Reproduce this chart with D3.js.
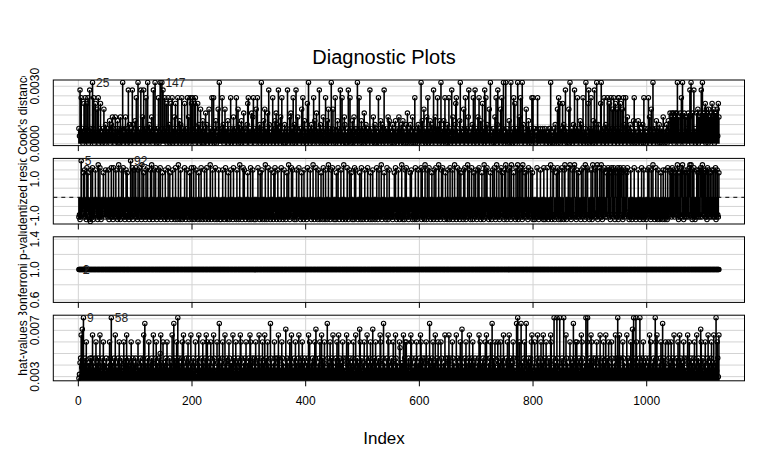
<!DOCTYPE html>
<html>
<head>
<meta charset="utf-8">
<script src="https://cdnjs.cloudflare.com/ajax/libs/d3/7.8.5/d3.min.js"></script>
<style>
  body { margin: 0; background: #fff; }
  text { font-family: "Liberation Sans", Arial, sans-serif; }
</style>
</head>
<body>
<svg id="chart"></svg>
<script>
// each code character stands for one observation (index 1..n), looked up in its level table

// Cook's distance
const cookKeys = "0123456789abc";
const cookLevels = [0.00003, 0.0004, 0.0006, 0.0008, 0.001, 0.0012, 0.0014, 0.0016, 0.0018, 0.0021, 0.0024, 0.0028, 0.0032];
const cookCodes = [
  "31b2a13029 1a3192a02b 1312c3a029 1281a03191 2031820413",
  "2131502416 3120632150 1306231c02 1361302b14 0231b41205",
  "3a21c0213b 2160b132a3 0c12413162 0b13c12031 a02c21c3b1",
  "2a13902a14 0291a03162 9013a21504 1a20319130 2a1602a193",
  "a2190a3129 1402813052 0317140218 1302a12a03 1501283c12",
  "31a1402813 2150213a01 3162031a12 8041305213 71302149a2",
  "1302716a13 0281a32140 3c12052813 0271b40213 1a03152704",
  "2b13061a12 0340213b02 1617230a14 02b1361203 1382a01513",
  "0192c13024 130a251271 302b140312 6013a20518 2031c13802",
  "1a02151302 b13a021640 1203b12a03 1502613013 c21a031502",
  "3170241303 21b1302162 0413021a30 1521403b12 0312615031",
  "2041302512 0316130421 5031204170 2314021603 1a02130413",
  "13c1502813 0261a03152 0413b21603 2a13051c20 3152a03140",
  "2a1301b263 0149a13012 5c13021831 a20316b102 3141a02b13",
  "0261a31502 9130b2a140 2183c10213 0261a04b12 3180a13c01",
  "2c13021502 c1203a1903 21c2163a02 c142102813 1503210a2a",
  "3130021a31 2131203121 3120212303 c210213041 2180a29031",
  "391402b130 2180c21302 42b1302a13 2150421a02 13c2019b03",
  "2a13051b02 4c2140219c 2130a31402 a13920a138 2a0293180a",
  "a1390281a4 02a1361302 4130215a01 3102514130 2140a13021",
  "13a1602813 c021315203 1402130261 2031402513 7161727061",
  "717c160271 a1c1270613 61716b1c02 71b1302718 06171b2c17",
  "7190817082 6171961807 2718196"
];

// Studentized residuals
const resKeys = "abcdefRSTUV";
const resLevels = [-1.33, -1.22, -1.08, -0.95, -0.8, -0.66, 1.35, 1.5, 1.62, 1.78, 2.0];
const resCodes = [
  "cdbcVdefRc SdcbTeRdcb aSdcTbcdeS fdcbUdcTdb cdeRfdcSde",
  "dcSbdecTdc bTdceSdcbd UcdbeScdTc dbcSeRdcbd cVdcTbeSdc",
  "TdcbScdTec bUdcRdcbSd cTdebcSdUc bdSceTdbcd ScdTbceRdc",
  "dbSdcebTdc RdcbdSecdb TcdbeUdcbS dcbedcTdbc SdecbRdcTb",
  "cdTbceSdcb dRcbdTecbd cSdbeTdcbc dUcbdSecdb TcdbecSdbc",
  "bdcSecbdTc dbcRdbeScd cbTdcedbSc dbcUedcbdT cSdbecdRcb",
  "dcTbdcSebd cbdecTdcbR dcSbedcbUd cbdTecdbSc dcbReTdcbd",
  "SdcbedTcdb cSdcbeRdcU dbcdTeScdb cdbSdceTdc bdRcdbSecd",
  "cbTdcedSdb cdUcbdeTcd bScdbcRdeb TdcbScdbeU cdbcSdTecb",
  "dcbRdcTebd cSdcbdUecb dcTdbcSdeR cbdcbTdScd ebcdRcbTdc",
  "bdcSdcbeTd cdbRcdbSec dbcdTcbdSe cdUbcdeRcd bcTdbcSdec",
  "cdbcdReTcb dcSdbcdeUc bdcbSdTecd bcdReScbdc dbTcdbcSed",
  "dcTbScdebU cdbSdcTedb cRdcbSdeTc bdcUedbcSd TcdbeRcdbS",
  "cdbTecdSbd cUdcbeTdcS bdRcdebScT dbcdUecSdb cTdbeRdcSd",
  "bcSdTecbdR cdbUcdSeTd cbdcRdbeSc dTcbdUecdS bcdTeRcdbS",
  "dUcbdSecTd bUcdeRcdbT cdUbcSdeTc bUdcdReScd bTcdeSdcRb",
  "cdbcdeTcdb cdScdecbTc bdceTcbdcd UcbdSTdbcd RcTdbSdcbe",
  "TdcbSUdcbd eTcdUcbdSc dTUdcbScdR ecdbSdcTed bUcdTSdcbd",
  "dScbUedcST dcUbdeTcdU cbSdTecdRc STdScbRTdS cTdbSRdcTb",
  "ScTdRScbTd cSdeRTdcbd cSdbcdeTcd bcdeSdcbdc TdcbScdebd",
  "cSdTdcbScd UcdbcTdcbS dcbcRdcbSd cbSdcbTdce SdRcTdSdcR",
  "dSdUcbRdcS TcUdbScRdc SdRcTUdUcb SdTcbdcSdR cSdcTScUdS",
  "dRcScbTdSc dRcdSdcScd TbcSdcR"
];

// Bonferroni p-values: every observation sits at 1
const bonfValue = 1;

// hat-values
const hatKeys = "0123456789abcd";
const hatLevels = [0.00285, 0.0030, 0.0032, 0.0035, 0.0038, 0.0042, 0.0046, 0.0050, 0.0055, 0.0060, 0.0066, 0.0071, 0.0076, 0.0081];
const hatCodes = [
  "0256a4b3d5 4639145253 6146a52436 9153642a51 3649153264",
  "4153962d35 1463a52416 3952461349 5163a45261 3593461524",
  "6135924163 5246a1c354 1639425163 5a41369152 4637a51493",
  "5146395241 6352a41c36 1594d26153 4693a52416 3596142a53",
  "4613592146 3a52416395 2461a39415 3692415a63 2419536c41",
  "5369241a53 6142963515 2a46319524 6135a96142 5363941526",
  "3a95261436 5924163a52 4619353a41 6295143c62 4153962416",
  "5a36141963 5241b36152 4963a51426 3915246a35 1649253614",
  "2536a19425 3614596b24 1536942a16 3592414c63 5294163a52",
  "4163952a46 1535962413 6a52941635 2469135a42 6153b94261",
  "3592416a35 1469253b14 6395241635 a92416c352 4163a95142",
  "6359241a63 5142983515 2a46939524 6135a96142 5363941526",
  "4a95261436 5924163c52 4619353a41 6295143962 4153a62416",
  "5a36141963 5241a36152 4963b51426 3915246a35 1649253614",
  "2536a19425 3614596a24 1536942c16 3592414963 5294163a52",
  "4163952a46 1535962413 c6d52941c3 5246913c52 4615369a42",
  "3592416a35 1469253a14 6395241635 a92416d352 4d6315d142",
  "635d241a63 5142963515 c246939524 6135a96142 53d39d1526",
  "4a95261436 5924163a52 4619353a41 6295143962 4153a624d6",
  "5a36141963 5241a36152 4963b5d426 d915246d35 1649253614",
  "2536a19425 3614d96a24 1536942c16 3592414963 5294163a52",
  "4163952a46 1535962413 6a52941635 2469135a42 6153b94261",
  "3592416a35 1469253a14 5d3961a"
];

// axis ticks (grid) and the tick labels that are printed
const xTicks = [0, 200, 400, 600, 800, 1000];
const cookTicks = [0, 0.0005, 0.001, 0.0015, 0.002, 0.0025, 0.003];
const cookTickShown = [0, 0.003];
const cookTickText = ["0.0000", "0.0030"];
const resTicks = [-1, -0.5, 0, 0.5, 1, 1.5, 2];
const resTickShown = [-1, 1];
const resTickText = ["-1.0", "1.0"];
const bonfTicks = [0.6, 0.8, 1.0, 1.2, 1.4];
const bonfTickShown = [0.6, 1.0, 1.4];
const bonfTickText = ["0.6", "1.0", "1.4"];
const hatTicks = [0.003, 0.004, 0.005, 0.006, 0.007, 0.008];
const hatTickShown = [0.003, 0.007];
const hatTickText = ["0.003", "0.007"];

// labelled observations
const cookIds = [25, 147];
const resIds = [5, 92];
const bonfIds = [1, 2];
const hatIds = [9, 58];

const titles = ["Cook's distance", "Studentized residuals", "Bonferroni p-value", "hat-values"];

function decode(codes, keys, levels) {
  return codes.join("").replace(/ /g, "").split("").map(c => levels[keys.indexOf(c)]);
}

const cook = decode(cookCodes, cookKeys, cookLevels);
const res = decode(resCodes, resKeys, resLevels);
const hat = decode(hatCodes, hatKeys, hatLevels);
const n = cook.length;
const bonf = d3.range(n).map(() => bonfValue);

const panels = [
  {values: cook, ticks: cookTicks, shown: cookTickShown, text: cookTickText, ids: cookIds, stems: true},
  {values: res, ticks: resTicks, shown: resTickShown, text: resTickText, ids: resIds, stems: true, zeroLine: true},
  {values: bonf, ticks: bonfTicks, shown: bonfTickShown, text: bonfTickText, ids: bonfIds, stems: false},
  {values: hat, ticks: hatTicks, shown: hatTickShown, text: hatTickText, ids: hatIds, stems: true}
];

const width = 770, height = 475;
const svg = d3.select("#chart").attr("width", width).attr("height", height);

const x = d3.scaleLinear().domain([-44.04, 1172.04]).range([53.3, 744.5]);
const left = x.range()[0], right = x.range()[1];
const panelTop = [80, 158.4, 236.8, 315.2];
const panelH = 65.6;
// figure regions: the y titles are cut off at these edges
const figClip = [[76, 158.5], [158.5, 233], [233, 315], [315, 400]];

const defs = svg.append("defs");

panels.forEach((p, k) => {
  const top = panelTop[k], bottom = top + panelH;
  let [lo, hi] = d3.extent(p.values);
  if (lo === hi) { lo -= 0.4 * Math.abs(lo); hi += 0.4 * Math.abs(hi); }
  const pad = (hi - lo) * 0.04;
  const y = d3.scaleLinear().domain([lo - pad, hi + pad]).range([bottom, top]);

  defs.append("clipPath").attr("id", "plot" + k)
    .append("rect").attr("x", left).attr("y", top).attr("width", right - left).attr("height", panelH);
  defs.append("clipPath").attr("id", "fig" + k)
    .append("rect").attr("x", 0).attr("y", figClip[k][0]).attr("width", left).attr("height", figClip[k][1] - figClip[k][0]);

  const g = svg.append("g").attr("clip-path", "url(#plot" + k + ")");

  // grid
  g.selectAll(".gx").data(xTicks).join("line")
    .attr("x1", d => x(d)).attr("x2", d => x(d))
    .attr("y1", top).attr("y2", bottom)
    .attr("stroke", "#d3d3d3").attr("stroke-width", 1);
  g.selectAll(".gy").data(p.ticks).join("line")
    .attr("x1", left).attr("x2", right)
    .attr("y1", d => y(d)).attr("y2", d => y(d))
    .attr("stroke", "#d3d3d3").attr("stroke-width", 1);

  if (p.zeroLine) {
    g.append("line")
      .attr("x1", left).attr("x2", right)
      .attr("y1", y(0)).attr("y2", y(0))
      .attr("stroke", "#000").attr("stroke-width", 1).attr("stroke-dasharray", "4,4");
  }

  if (p.stems) {
    // stems as one path per panel
    const stemPath = d3.path();
    p.values.forEach((d, i) => {
      stemPath.moveTo(x(i + 1), y(0));
      stemPath.lineTo(x(i + 1), y(d));
    });
    g.append("path")
      .attr("d", stemPath.toString())
      .attr("fill", "none")
      .attr("stroke", "#000").attr("stroke-width", 1.6);
  }

  g.append("g").selectAll("circle").data(p.values).join("circle")
    .attr("cx", (d, i) => x(i + 1)).attr("cy", d => y(d))
    .attr("r", 2.2)
    .attr("fill", "none").attr("stroke", "#000").attr("stroke-width", 1.1);

  // box
  svg.append("rect")
    .attr("x", left).attr("y", top).attr("width", right - left).attr("height", panelH)
    .attr("fill", "none").attr("stroke", "#000").attr("stroke-width", 1);

  // x ticks under every panel
  svg.append("g").selectAll("line").data(xTicks).join("line")
    .attr("x1", d => x(d)).attr("x2", d => x(d))
    .attr("y1", bottom).attr("y2", bottom + 5.5)
    .attr("stroke", "#000");

  // y tick labels
  svg.append("g").selectAll("text").data(p.shown).join("text")
    .attr("transform", d => "translate(39," + y(d) + ") rotate(-90)")
    .attr("text-anchor", "middle")
    .attr("font-size", 12)
    .text((d, i) => p.text[i]);

  // y title, clipped to its figure region
  svg.append("g").attr("clip-path", "url(#fig" + k + ")")
    .append("text")
    .attr("transform", "translate(26.5," + (top + panelH / 2) + ") rotate(-90)")
    .attr("text-anchor", "middle")
    .attr("font-size", 12)
    .text(titles[k]);

  // labelled points
  svg.append("g").selectAll("text").data(p.ids).join("text")
    .attr("x", d => x(d) + 3.5)
    .attr("y", d => y(p.values[d - 1]) + 4.3)
    .attr("font-size", 12)
    .attr("fill", "#222")
    .text(d => d);

  if (k === panels.length - 1) {
    svg.append("g").selectAll("text").data(xTicks).join("text")
      .attr("x", d => x(d)).attr("y", bottom + 24)
      .attr("text-anchor", "middle")
      .attr("font-size", 12)
      .text(d => d);
  }
});

svg.append("text")
  .attr("x", 384).attr("y", 64)
  .attr("text-anchor", "middle")
  .attr("font-size", 20)
  .text("Diagnostic Plots");

svg.append("text")
  .attr("x", 384).attr("y", 444)
  .attr("text-anchor", "middle")
  .attr("font-size", 17)
  .text("Index");
</script>
</body>
</html>
